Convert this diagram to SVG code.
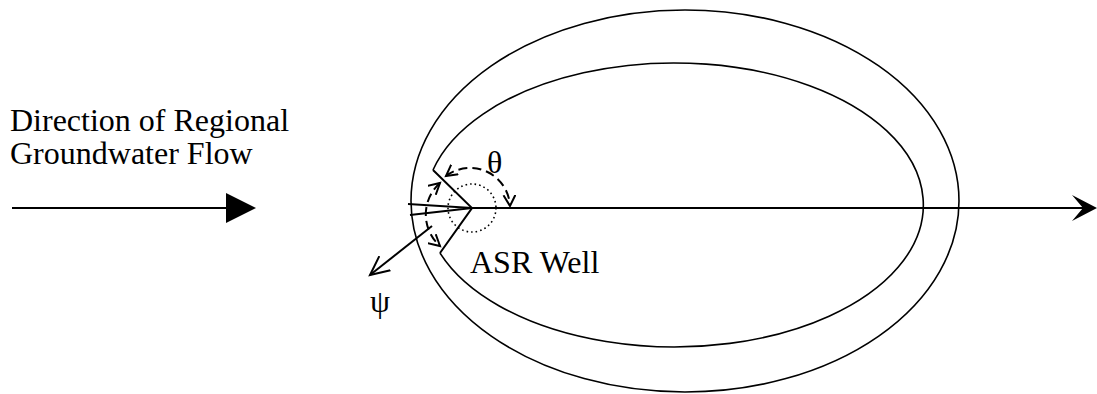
<svg xmlns="http://www.w3.org/2000/svg" width="1097" height="394" viewBox="0 0 1097 394">
<style>
.ln{fill:none;stroke:#000;stroke-width:1.6}
.th{fill:none;stroke:#000;stroke-width:2}
.dash{fill:none;stroke:#000;stroke-width:2;stroke-dasharray:9 5}
.dot{fill:none;stroke:#000;stroke-width:1.6;stroke-dasharray:1.6 3}
text{font-family:'Liberation Serif','Times New Roman',Times,serif;font-size:32px;fill:#000}
</style>
<defs>
<marker id="open" markerUnits="userSpaceOnUse" markerWidth="14" markerHeight="14" refX="11" refY="6" orient="auto-start-reverse" viewBox="0 0 14 12">
<path d="M0,0 L11,6 L0,12" fill="none" stroke="#000" stroke-width="2"/>
</marker>
<marker id="openBig" markerUnits="userSpaceOnUse" markerWidth="22" markerHeight="20" refX="19" refY="9" orient="auto" viewBox="0 0 22 18">
<path d="M0,0 L19,9 L0,18" fill="none" stroke="#000" stroke-width="2"/>
</marker>
</defs>
<g id="flow-label">
<text x="10" y="131">Direction of Regional</text>
<text x="10" y="164">Groundwater Flow</text>
</g>
<g id="flow-arrow">
<line class="th" x1="12" y1="208" x2="230" y2="208"/>
<polygon points="226,193 256,208 226,223" fill="#000"/>
</g>
<g id="outer-zone">
<ellipse class="ln" cx="685" cy="201" rx="274" ry="191"/>
</g>
<g id="inner-zone">
<path class="ln" d="M433,170 A249,142 0 1 1 440,253"/>
</g>
<g id="asr-well">
<circle class="dot" cx="472" cy="208" r="24"/>
<text x="470" y="273">ASR Well</text>
</g>
<g id="theta-label">
<text x="487" y="173">θ</text>
</g>
<g id="psi-label">
<text x="370" y="312">ψ</text>
</g>
<g id="connectors">
<path class="th" d="M433,170 L472,208 L440,253"/>
<path class="th" d="M408,204 L472,208 L410,215"/>
<line class="th" x1="472" y1="208" x2="1084" y2="208"/>
<polygon points="1097,208 1072,195 1083,208 1072,221" fill="#000"/>
<path class="dash" d="M446,176 A40,40 0 0 1 510,206" marker-start="url(#open)" marker-end="url(#open)"/>
<path class="dash" d="M440,183 A42,42 0 0 0 440,246" marker-start="url(#open)" marker-end="url(#open)"/>
<line class="th" x1="432" y1="226" x2="370" y2="275" marker-end="url(#openBig)"/>
</g>
</svg>
